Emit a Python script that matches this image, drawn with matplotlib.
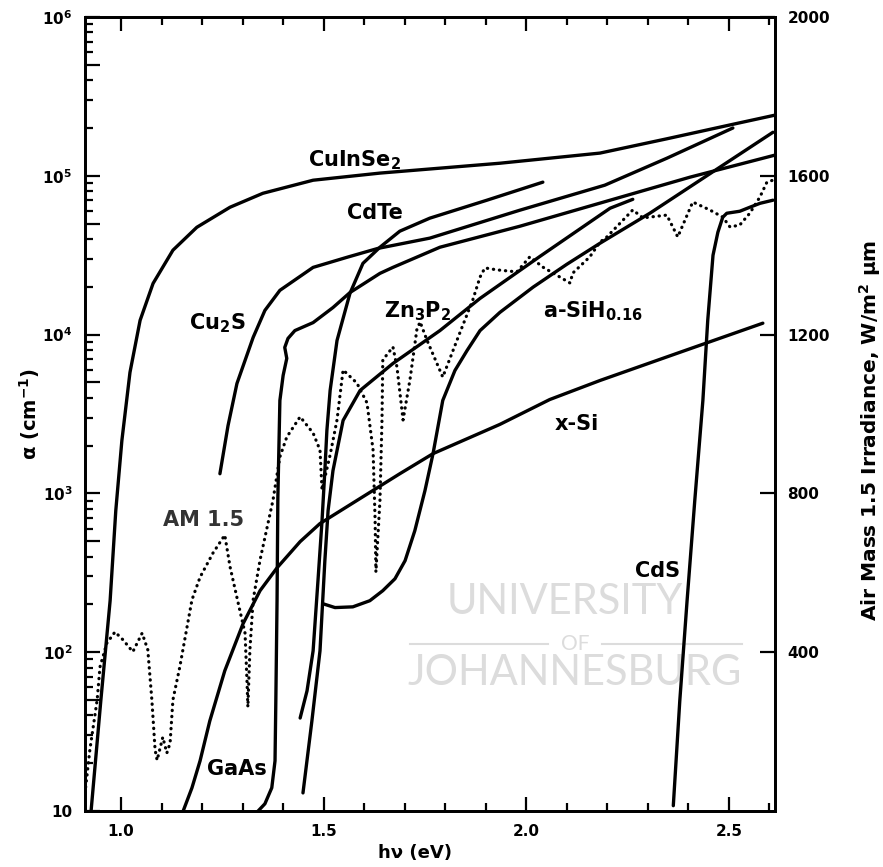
import matplotlib
matplotlib.use("Agg")
import matplotlib.pyplot as plt
from matplotlib.ticker import FixedLocator, FixedFormatter, MultipleLocator
from matplotlib.lines import Line2D

plt.rcParams['font.family'] = ['DejaVu Sans']
plt.rcParams['font.weight'] = 'bold'
plt.rcParams['mathtext.default'] = 'bf'

# ---------------- data (photon energy in eV, absorption coefficient in cm^-1) ----------------
cuinse2_ev = [0.926, 0.950, 0.973, 0.987, 1.002, 1.022, 1.047, 1.079, 1.128, 1.187, 1.269, 1.350,
              1.474, 1.639, 1.935, 2.182, 2.347, 2.510, 2.614]
cuinse2_alpha = [10, 49.4, 211, 780, 2150, 5780, 12300, 21000, 34000, 47400, 63400, 77600,
                 93800, 104000, 120000, 139000, 171000, 211000, 241000]

cu2s_ev = [1.244, 1.264, 1.286, 1.326, 1.355, 1.392, 1.474, 1.558, 1.634, 1.762, 1.984, 2.194, 2.347, 2.510]
cu2s_alpha = [1330, 2670, 4920, 9600, 14200, 19000, 26500, 30700, 34900, 40500, 60700, 87300, 129000, 200000]

cdte_ev = [1.442, 1.459, 1.474, 1.486, 1.496, 1.503, 1.508, 1.516, 1.533, 1.565, 1.597, 1.639,
           1.688, 1.762, 1.903, 2.041]
cdte_alpha = [38.5, 57.1, 102, 282, 673, 1390, 2490, 4450, 9180, 18200, 28100, 35500,
              44800, 54100, 70200, 91200]

zn3p2_ev = [1.449, 1.471, 1.491, 1.503, 1.511, 1.523, 1.548, 1.590, 1.671, 1.787, 1.886, 2.034, 2.207, 2.263]
zn3p2_alpha = [13.0, 36.9, 102, 377, 780, 1390, 2880, 4450, 6580, 10600, 16900, 31100, 62500, 71100]

gaas_ev = [1.330, 1.355, 1.372, 1.380, 1.382, 1.385, 1.387, 1.392, 1.400, 1.409, 1.404, 1.412,
           1.429, 1.474, 1.523, 1.565, 1.639, 1.671, 1.787, 1.984, 2.207, 2.404, 2.614]
gaas_alpha = [9.5, 11.1, 14.0, 20.7, 49.4, 211, 942, 3850, 5530, 7080, 8300, 9460,
              10600, 11900, 14800, 18400, 24300, 26500, 35500, 48100, 70200, 98000, 135000]

xsi_ev = [1.150, 1.175, 1.195, 1.219, 1.256, 1.301, 1.343, 1.385, 1.442, 1.491, 1.582, 1.688,
          1.770, 1.935, 2.058, 2.182, 2.379, 2.584]
xsi_alpha = [9.5, 14.0, 20.7, 36.9, 76.4, 151, 244, 340, 497, 646, 902, 1330,
             1780, 2720, 3900, 5140, 7730, 11800]

asih_ev = [1.498, 1.528, 1.572, 1.614, 1.646, 1.676, 1.701, 1.725, 1.750, 1.770, 1.794, 1.824,
           1.854, 1.886, 1.935, 2.017, 2.100, 2.182, 2.305, 2.429, 2.609]
asih_alpha = [202, 191, 193, 211, 244, 290, 377, 582, 1040, 1780, 3850, 5940,
              7940, 10600, 13800, 19900, 27700, 37600, 58100, 93800, 188000]

cds_ev = [2.363, 2.379, 2.397, 2.416, 2.436, 2.448, 2.461, 2.473, 2.485, 2.495, 2.527, 2.552, 2.577, 2.609]
cds_alpha = [10.8, 49.4, 211, 902, 3850, 12300, 31600, 44100, 54800, 58100, 59800, 63400, 67100, 70200]

# AM 1.5 spectral irradiance (W/m^2 um), right axis
am_ev = [0.911, 0.923, 0.941, 0.948, 0.965, 0.985, 1.005, 1.029, 1.052, 1.066, 1.076, 1.084, 1.089,
         1.103, 1.113, 1.121, 1.128, 1.145, 1.175, 1.195, 1.227, 1.256, 1.269, 1.293, 1.306, 1.311,
         1.313, 1.318, 1.326, 1.343, 1.375, 1.392, 1.409, 1.442, 1.474, 1.491, 1.496, 1.516, 1.533,
         1.548, 1.582, 1.607, 1.622, 1.627, 1.629, 1.639, 1.644, 1.646, 1.671, 1.681, 1.696, 1.713,
         1.730, 1.738, 1.755, 1.794, 1.836, 1.868, 1.886, 1.898, 1.928, 1.977, 2.009, 2.041, 2.083,
         2.108, 2.115, 2.157, 2.182, 2.199, 2.263, 2.288, 2.347, 2.374, 2.411, 2.453, 2.485, 2.503,
         2.527, 2.552, 2.577, 2.594, 2.609]
am_w = [45, 154, 280, 363, 423, 451, 431, 401, 448, 406, 280, 154, 128,
        186, 146, 171, 280, 363, 532, 589, 650, 695, 615, 506, 448, 322,
        262, 406, 532, 632, 783, 892, 942, 993, 952, 909, 809, 897, 985,
        1111, 1078, 1028, 909, 733, 602, 783, 985, 1136, 1169, 1118, 985, 1086,
        1212, 1232, 1186, 1093, 1204, 1287, 1345, 1368, 1363, 1358, 1396, 1370, 1345,
        1330, 1355, 1396, 1433, 1446, 1514, 1494, 1501, 1446, 1534, 1514, 1496, 1471,
        1476, 1506, 1547, 1584, 1589]

x_ticks = [1.0, 1.5, 2.0, 2.5]
x_ticklabels = ['1.0', '1.5', '2.0', '2.5']
y_major = [10, 50, 100, 500, 1e3, 5e3, 1e4, 5e4, 1e5, 5e5, 1e6]
y_majorlabels = ['10', '', '10$^2$', '', '10$^3$', '', '10$^4$', '', '10$^5$', '', '10$^6$']
right_ticks = [400, 800, 1200, 1600, 2000]
right_ticklabels = ['400', '800', '1200', '1600', '2000']

# ---------------- figure ----------------
W, H = 883, 867
L, R, T, B = 85, 775, 17, 811
fig = plt.figure(figsize=(W / 100, H / 100), dpi=100)
ax = fig.add_axes([L / W, 1 - B / H, (R - L) / W, (B - T) / H])
ax.set_yscale('log')
ax.set_xlim(0.911, 2.614)
ax.set_ylim(10, 1e6)

line_kw = dict(color='black', lw=2.4, solid_capstyle='round', solid_joinstyle='round', zorder=3)
for ev, al in [(cuinse2_ev, cuinse2_alpha), (cu2s_ev, cu2s_alpha), (cdte_ev, cdte_alpha),
               (zn3p2_ev, zn3p2_alpha), (gaas_ev, gaas_alpha), (xsi_ev, xsi_alpha),
               (asih_ev, asih_alpha), (cds_ev, cds_alpha)]:
    ax.plot(ev, al, **line_kw)

ax2 = ax.twinx()
ax2.set_ylim(0, 2000)
ax2.plot(am_ev, am_w, color='black', lw=2.3, linestyle=(0, (0.1, 1.8)),
         dash_capstyle='round', zorder=3)

# ticks
ax.xaxis.set_major_locator(FixedLocator(x_ticks))
ax.xaxis.set_major_formatter(FixedFormatter(x_ticklabels))
ax.xaxis.set_minor_locator(MultipleLocator(0.1))
ax.tick_params(axis='x', which='major', direction='in', length=10, width=1.6, pad=9,
               labelsize=11, top=True)
ax.tick_params(axis='x', which='minor', direction='in', length=6, width=1.6, top=True)

minor_y = [m * 10 ** k for k in range(1, 6) for m in (2, 3, 4, 6, 7, 8, 9)]
ax.yaxis.set_major_locator(FixedLocator(y_major))
ax.yaxis.set_major_formatter(FixedFormatter(y_majorlabels))
ax.yaxis.set_minor_locator(FixedLocator(minor_y))
ax.tick_params(axis='y', which='major', direction='in', length=11, width=1.6, pad=9,
               labelsize=11, right=False)
ax.tick_params(axis='y', which='minor', direction='in', length=6, width=1.6, right=False)

ax2.yaxis.set_major_locator(FixedLocator(right_ticks))
ax2.yaxis.set_major_formatter(FixedFormatter(right_ticklabels))
ax2.tick_params(axis='y', which='major', direction='in', length=11, width=1.6, pad=9, labelsize=11)
ax2.tick_params(axis='y', which='minor', length=0)

for a in (ax, ax2):
    for s in a.spines.values():
        s.set_linewidth(2.0)

# axis labels
ax.set_xlabel('hν (eV)', fontsize=13, fontweight='bold', va='center')
ax.xaxis.set_label_coords((415 - L) / (R - L), (B - 853) / (B - T))
ax.set_ylabel('α (cm$^{-1}$)', fontsize=14, fontweight='bold', va='center')
ax.yaxis.set_label_coords((30 - L) / (R - L), 0.5)
ax2.set_ylabel('Air Mass 1.5 Irradiance, W/m$^2$ μm', fontsize=14.5, fontweight='bold',
               rotation=90, va='center', ha='center')
ax2.yaxis.set_label_coords((870 - L) / (R - L), (B - 430) / (B - T))

# curve labels
lab_kw = dict(fontsize=15, fontweight='bold', ha='center', va='center', zorder=4)
ax.text(1.577, 1.25e5, 'CuInSe$_2$', **lab_kw)
ax.text(1.627, 5.8e4, 'CdTe', **lab_kw)
ax.text(1.237, 1.18e4, 'Cu$_2$S', **lab_kw)
ax.text(1.733, 1.4e4, 'Zn$_3$P$_2$', **lab_kw)
ax.text(2.165, 1.4e4, 'a-SiH$_{0.16}$', **lab_kw)
ax.text(2.125, 2.75e3, 'x-Si', **lab_kw)
ax.text(2.323, 326, 'CdS', **lab_kw)
ax.text(1.286, 18.4, 'GaAs', **lab_kw)
ax.text(1.204, 684, 'AM 1.5', color='#333333', **lab_kw)

# watermark
wm = '#dcdcdc'
ax.text(565 / W, 1 - 602 / H, 'UNIVERSITY', transform=fig.transFigure, fontsize=30,
        family='Lato', fontweight='normal', color=wm, ha='center', va='center', zorder=0.5)
ax.text(575 / W, 1 - 644 / H, 'OF', transform=fig.transFigure, fontsize=15,
        family='Lato', fontweight='normal', color=wm, ha='center', va='center', zorder=0.5)
ax.text(575 / W, 1 - 673 / H, 'JOHANNESBURG', transform=fig.transFigure, fontsize=30,
        family='Lato', fontweight='normal', color=wm, ha='center', va='center', zorder=0.5)
for x0, x1 in [(410, 548), (602, 742)]:
    ax.add_line(Line2D([x0 / W, x1 / W], [1 - 644 / H, 1 - 644 / H], transform=fig.transFigure,
                       color=wm, lw=1.5, zorder=0.5))

fig.savefig('out.png', dpi=100)
